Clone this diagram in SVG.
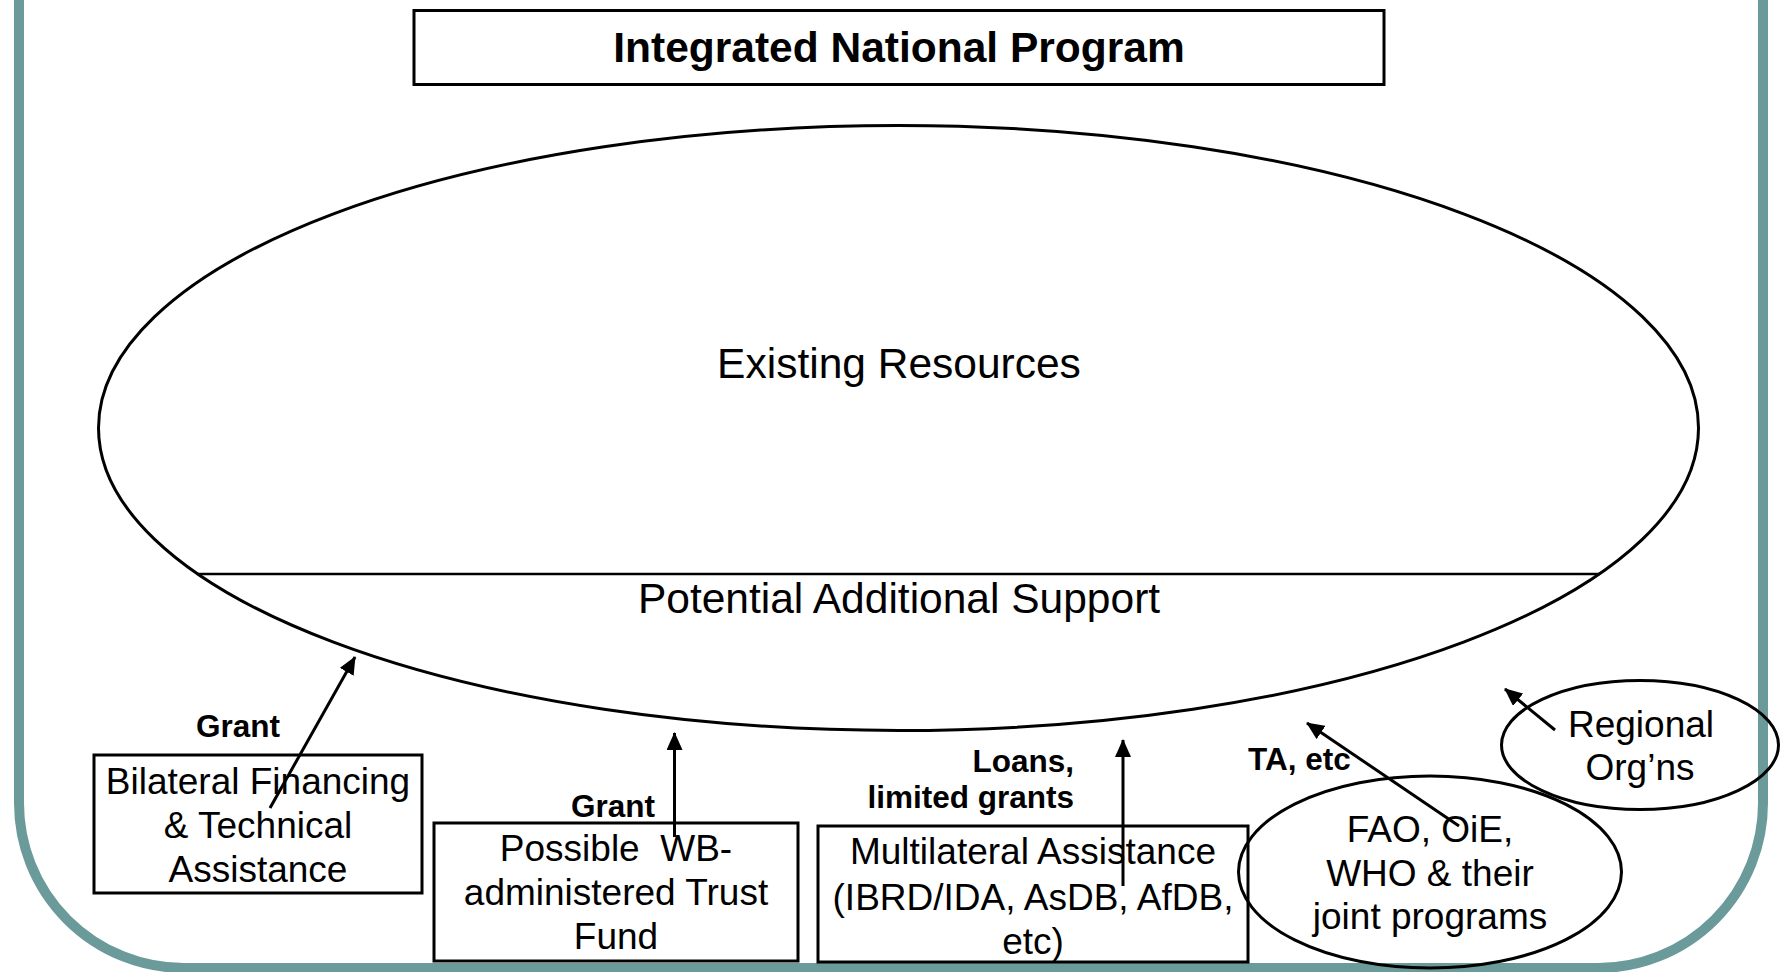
<svg xmlns="http://www.w3.org/2000/svg" width="1782" height="972" viewBox="0 0 1782 972">
<defs>
<marker id="ah" markerUnits="userSpaceOnUse" markerWidth="18" markerHeight="16" viewBox="0 0 18 16" refX="17" refY="8" orient="auto">
<path d="M0,0 L18,8 L0,16 z" fill="#000"/>
</marker>
</defs>
<style>
.frame{fill:none;stroke:#6A9A9A;stroke-width:10}
.box{fill:none;stroke:#000;stroke-width:3}
.ell{fill:none;stroke:#000;stroke-width:3}
.t{font-family:"Liberation Sans",Arial,sans-serif;font-size:37px;fill:#000;text-anchor:middle}
.big{font-family:"Liberation Sans",Arial,sans-serif;font-size:42.5px;fill:#000;text-anchor:middle}
.lbl{font-family:"Liberation Sans",Arial,sans-serif;font-size:31.5px;font-weight:bold;fill:#000}
.conn{stroke:#000;stroke-width:3;fill:none;marker-end:url(#ah)}
</style>
<rect width="1782" height="972" fill="#fff"/>
<rect id="frame" class="frame" x="19" y="-250" width="1744" height="1218" rx="165" ry="165"/>

<g id="title">
<rect class="box" x="414" y="10.5" width="970" height="74" stroke-width="3.8"/>
<text class="big" x="899" y="62" font-weight="bold" font-size="43">Integrated National Program</text>
</g>

<g id="resources">
<ellipse class="ell" cx="898.5" cy="428" rx="800" ry="302.5" stroke-width="3.5"/>
<line x1="197" y1="574" x2="1600" y2="574" stroke="#000" stroke-width="2.5"/>
<text class="big" x="899" y="378">Existing Resources</text>
<text class="big" x="899" y="613">Potential Additional Support</text>
</g>

<g id="bilateral">
<rect class="box" x="94" y="755" width="328" height="138"/>
<text class="t" x="258" y="794">Bilateral Financing</text>
<text class="t" x="258" y="838">&amp; Technical</text>
<text class="t" x="258" y="882">Assistance</text>
</g>

<g id="trustfund">
<rect class="box" x="434" y="823" width="364" height="138"/>
<text class="t" x="616" y="861" xml:space="preserve">Possible  WB-</text>
<text class="t" x="616" y="905">administered Trust</text>
<text class="t" x="616" y="949">Fund</text>
</g>

<g id="multilateral">
<rect class="box" x="818" y="826" width="430" height="136"/>
<text class="t" x="1033" y="864">Multilateral Assistance</text>
<text class="t" x="1033" y="910">(IBRD/IDA, AsDB, AfDB,</text>
<text class="t" x="1033" y="954">etc)</text>
</g>

<g id="fao">
<ellipse class="ell" cx="1430" cy="872" rx="191.5" ry="96"/>
<text class="t" x="1430" y="842">FAO, OiE,</text>
<text class="t" x="1430" y="886">WHO &amp; their</text>
<text class="t" x="1430" y="929">joint programs</text>
</g>

<g id="regional">
<ellipse class="ell" cx="1640" cy="745" rx="138.5" ry="64.5"/>
<text class="t" x="1641" y="737">Regional</text>
<text class="t" x="1640" y="780">Org’ns</text>
</g>

<g id="labels">
<text class="lbl" x="238" y="737" text-anchor="middle">Grant</text>
<text class="lbl" x="613" y="817" text-anchor="middle">Grant</text>
<text class="lbl" x="1074" y="772" text-anchor="end">Loans,</text>
<text class="lbl" x="1074" y="808" text-anchor="end">limited grants</text>
<text class="lbl" x="1248" y="770">TA, etc</text>
</g>

<g id="connectors">
<line class="conn" x1="270" y1="808" x2="355" y2="657"/>
<line class="conn" x1="674.5" y1="837" x2="674.5" y2="733"/>
<line class="conn" x1="1123" y1="886" x2="1123" y2="740"/>
<line class="conn" x1="1459" y1="826" x2="1307" y2="723"/>
<line class="conn" x1="1555" y1="730" x2="1505" y2="689"/>
</g>
</svg>
